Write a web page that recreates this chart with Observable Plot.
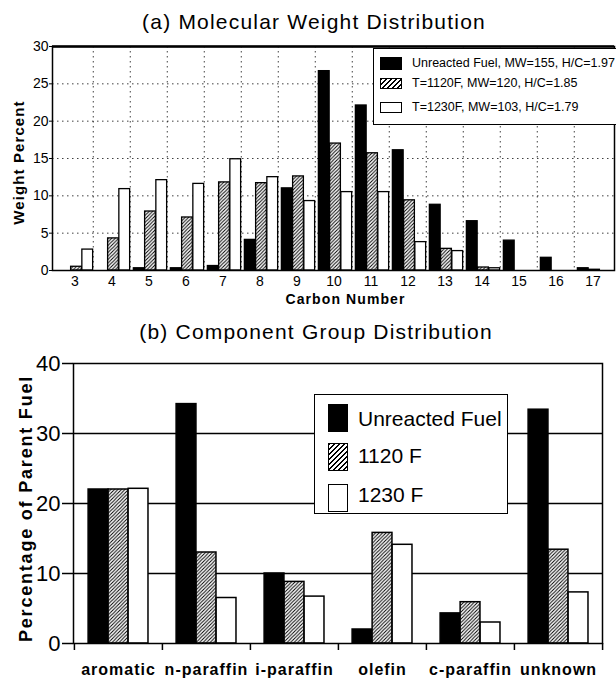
<!DOCTYPE html>
<html>
<head>
<meta charset="utf-8">
<script src="https://cdn.jsdelivr.net/npm/d3@7"></script>
<script src="https://cdn.jsdelivr.net/npm/@observablehq/plot@0.6"></script>
<style>
  html, body { margin: 0; padding: 0; background: #fff; }
  body { font-family: "Liberation Sans", Arial, Helvetica, sans-serif; color: #000; }
  #root { position: relative; width: 616px; height: 683px; overflow: hidden; }
  .abs { position: absolute; }
  .title { position: absolute; left: 0; width: 616px; text-align: center; font-size: 21px; letter-spacing: 1.2px; white-space: nowrap; line-height: 1; }
  .legend { position: absolute; background: #fff; border: 1.5px solid #000; box-sizing: border-box; }
  .sw { position: absolute; box-sizing: border-box; border: 1.5px solid #000; }
  .lab { position: absolute; line-height: 1; white-space: nowrap; }
</style>
</head>
<body>
<div id="root"></div>
<script>
// ---------- data: (a) Molecular Weight Distribution ----------
const carbonNumbers = [3, 4, 5, 6, 7, 8, 9, 10, 11, 12, 13, 14, 15, 16, 17];
const mwUnreacted = [0, 0, 0.3, 0.3, 0.6, 4.1, 11.0, 26.7, 22.1, 16.1, 8.8, 6.6, 4.0, 1.7, 0.3];
const mw1120 = [0.5, 4.3, 7.9, 7.1, 11.8, 11.7, 12.6, 17.0, 15.7, 9.4, 2.9, 0.4, 0, 0, 0.1];
const mw1230 = [2.8, 10.9, 12.1, 11.6, 14.9, 12.5, 9.3, 10.5, 10.5, 3.8, 2.6, 0.3, 0, 0, 0];
const mwSeriesNames = ["Unreacted Fuel, MW=155, H/C=1.97", "T=1120F, MW=120, H/C=1.85", "T=1230F, MW=103, H/C=1.79"];
const mwYTicks = [0, 5, 10, 15, 20, 25, 30];
const mwGridY = [5, 10, 15, 20, 25];
const titleA = "(a) Molecular Weight Distribution";
const xLabelA = "Carbon Number";
const yLabelA = "Weight Percent";

// ---------- data: (b) Component Group Distribution ----------
const groups = ["aromatic", "n-paraffin", "i-paraffin", "olefin", "c-paraffin", "unknown"];
const cgUnreacted = [22.0, 34.2, 10.0, 2.0, 4.3, 33.4];
const cg1120 = [22.0, 13.0, 8.8, 15.8, 5.9, 13.4];
const cg1230 = [22.1, 6.5, 6.7, 14.1, 3.0, 7.3];
const cgSeriesNames = ["Unreacted Fuel", "1120 F", "1230 F"];
const cgYTicks = [0, 10, 20, 30, 40];
const cgGridY = [10, 20, 30];
const titleB = "(b) Component Group Distribution";
const yLabelB = "Percentage of Parent Fuel";

const FONT = '"Liberation Sans", Arial, Helvetica, sans-serif';
const fills = ["#000", "url(#hatch)", "#fff"];
const root = document.getElementById("root");

function addHatch(svg) {
  const defs = d3.select(svg).insert("defs", ":first-child");
  const p = defs.append("pattern").attr("id", "hatch").attr("patternUnits", "userSpaceOnUse")
    .attr("width", 3.5).attr("height", 3.5);
  p.append("rect").attr("width", 3.5).attr("height", 3.5).attr("fill", "#fff");
  p.append("path").attr("d", "M-1,1 l2,-2 M0,3.5 l3.5,-3.5 M2.5,4.5 l2,-2")
    .attr("stroke", "#000").attr("stroke-width", 1);
}

// ---------- chart A ----------
{
  const W = 616, H = 310, mL = 52, mR = 2, mT = 46, mB = 40;
  const step = (W - mL - mR) / carbonNumbers.length;
  const bw = step * 0.30, padL = step * 0.09;
  const rows = carbonNumbers.map((c, i) => ({c, v: [mwUnreacted[i], mw1120[i], mw1230[i]]}));
  const barMarks = [0, 1, 2].map(k => Plot.barY(rows, {
    x: "c", y: d => d.v[k], fill: fills[k], stroke: "#000", strokeWidth: 1.3,
    insetLeft: padL + k * bw, insetRight: step - padL - (k + 1) * bw
  }));
  const svg = Plot.plot({
    width: W, height: H, marginLeft: mL, marginRight: mR, marginTop: mT, marginBottom: mB,
    style: {fontFamily: FONT, color: "#000", background: "transparent", overflow: "visible"},
    x: {type: "band", domain: carbonNumbers, padding: 0},
    y: {domain: [0, 30]},
    marks: [
      Plot.ruleY(mwGridY, {stroke: "#000", strokeOpacity: 0.75, strokeDasharray: "1.5,3.5", strokeWidth: 1}),
      Plot.ruleX(carbonNumbers.slice(1), {x: d => d, dx: -step / 2, stroke: "#000", strokeOpacity: 0.75, strokeDasharray: "1.5,3.5", strokeWidth: 1}),
      ...barMarks,
      Plot.frame({stroke: "#000", strokeWidth: 1.5}),
      Plot.ruleY([30], {stroke: "#000", strokeWidth: 2.5}),
      Plot.axisY({ticks: mwYTicks, tickSize: 3, tickPadding: 1, fontSize: 14, label: null}),
      Plot.axisX({tickSize: 0, tickPadding: 6, fontSize: 14, label: null}),
      Plot.text([xLabelA], {text: d => d, frameAnchor: "bottom", dx: 12, dy: 33, fontSize: 14, fontWeight: "bold"}),
      Plot.text([yLabelA], {text: d => d, frameAnchor: "left", textAnchor: "middle", dx: -33, dy: 4, rotate: -90, fontSize: 15, fontWeight: "bold"})
    ]
  });
  addHatch(svg);
  d3.select(svg).selectAll("text").filter(function() { return this.textContent === xLabelA || this.textContent === yLabelA; })
    .style("letter-spacing", "1.1px");
  svg.classList.add("abs");
  svg.style.left = "0px"; svg.style.top = "0px";
  root.appendChild(svg);

  const t = document.createElement("div");
  t.className = "title"; t.textContent = titleA;
  t.style.top = "11px"; t.style.paddingLeft = "12px"; t.style.boxSizing = "border-box";
  root.appendChild(t);

  const lg = document.createElement("div");
  lg.className = "legend";
  Object.assign(lg.style, {left: "373px", top: "48px", width: "260px", height: "77px"});
  const rowTops = [8, 29, 53];
  mwSeriesNames.forEach((name, k) => {
    const sw = document.createElement("div");
    sw.className = "sw";
    Object.assign(sw.style, {left: "6px", top: rowTops[k] + "px", width: "22px", height: (k === 0 ? 13 : 11) + "px",
      background: k === 0 ? "#000" : k === 1 ? "repeating-linear-gradient(135deg, #000 0 1px, #fff 1px 3.5px)" : "#fff"});
    lg.appendChild(sw);
    const lb = document.createElement("div");
    lb.className = "lab"; lb.textContent = name;
    Object.assign(lb.style, {left: "38px", top: (rowTops[k] + (k === 0 ? 0 : -1)) + "px", fontSize: "12.5px"});
    lg.appendChild(lb);
  });
  root.appendChild(lg);
}

// ---------- chart B ----------
{
  const W = 616, H = 373, mL = 73, mR = 14, mT = 53, mB = 40;
  const step = (W - mL - mR) / groups.length;
  const bw = step * 0.227, padL = step * 0.16;
  const rows = groups.map((g, i) => ({g, v: [cgUnreacted[i], cg1120[i], cg1230[i]]}));
  const barMarks = [0, 1, 2].map(k => Plot.barY(rows, {
    x: "g", y: d => d.v[k], fill: fills[k], stroke: "#000", strokeWidth: 1.5,
    insetLeft: padL + k * bw, insetRight: step - padL - (k + 1) * bw
  }));
  const svg = Plot.plot({
    width: W, height: H, marginLeft: mL, marginRight: mR, marginTop: mT, marginBottom: mB,
    style: {fontFamily: FONT, color: "#000", background: "transparent", overflow: "visible"},
    x: {type: "band", domain: groups, padding: 0},
    y: {domain: [0, 40]},
    marks: [
      Plot.ruleY(cgGridY, {stroke: "#000", strokeWidth: 1.5}),
      ...barMarks,
      Plot.frame({stroke: "#000", strokeWidth: 1.5}),
      Plot.axisY({ticks: cgYTicks, tickSize: 11, tickPadding: 2, fontSize: 22, label: null, strokeWidth: 1.5}),
      Plot.axisX({tickSize: 7, dx: -step / 2, text: null, strokeWidth: 1.5, label: null}),
      Plot.axisX({ticks: groups.slice(-1), tickSize: 7, dx: step / 2, text: null, strokeWidth: 1.5, label: null}),
      Plot.axisX({tickSize: 0, tickPadding: 20, fontSize: 16, fontWeight: "bold", label: null}),
      Plot.text([yLabelB], {text: d => d, frameAnchor: "left", textAnchor: "middle", dx: -47, dy: 5, rotate: -90, fontSize: 18, fontWeight: "bold"})
    ]
  });
  addHatch(svg);
  d3.select(svg).selectAll("text").filter(function() { return groups.includes(this.textContent); })
    .style("letter-spacing", "1px");
  d3.select(svg).selectAll("text").filter(function() { return this.textContent === yLabelB; })
    .style("letter-spacing", "1.8px");
  svg.classList.add("abs");
  svg.style.left = "0px"; svg.style.top = "310px";
  root.appendChild(svg);

  const t = document.createElement("div");
  t.className = "title"; t.textContent = titleB;
  t.style.top = "321px"; t.style.paddingLeft = "16px"; t.style.boxSizing = "border-box";
  root.appendChild(t);

  const lg = document.createElement("div");
  lg.className = "legend";
  Object.assign(lg.style, {left: "314px", top: "394px", width: "194px", height: "120px"});
  const swTops = [9, 48, 89];
  const labTops = [13, 50, 89];
  cgSeriesNames.forEach((name, k) => {
    const sw = document.createElement("div");
    sw.className = "sw";
    Object.assign(sw.style, {left: "13px", top: swTops[k] + "px", width: "20px", height: "28px",
      background: k === 0 ? "#000" : k === 1 ? "repeating-linear-gradient(135deg, #000 0 1px, #fff 1px 3.5px)" : "#fff"});
    lg.appendChild(sw);
    const lb = document.createElement("div");
    lb.className = "lab"; lb.textContent = name;
    Object.assign(lb.style, {left: "43px", top: labTops[k] + "px", fontSize: "21px"});
    lg.appendChild(lb);
  });
  root.appendChild(lg);
}
</script>
</body>
</html>
